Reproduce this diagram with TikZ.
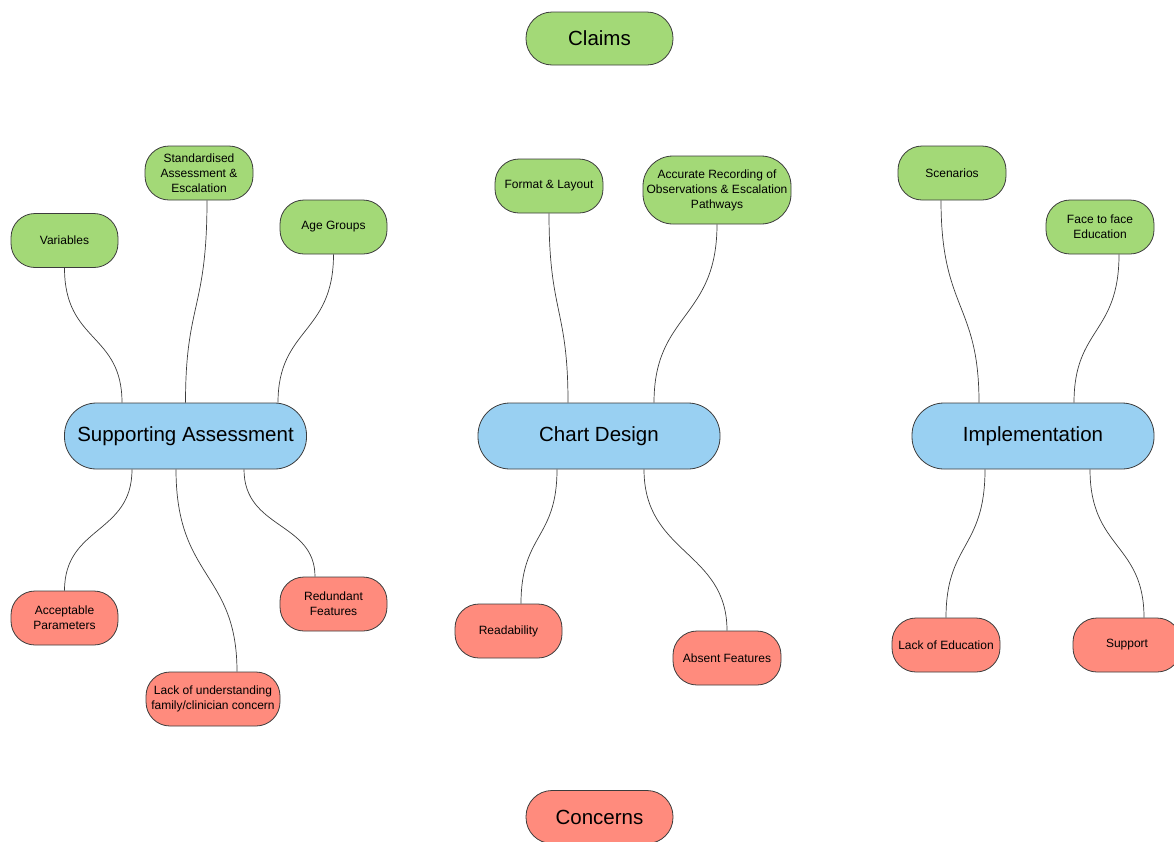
\documentclass[tikz,border=0pt]{standalone}
\usepackage{fontspec}
\setmainfont{Liberation Sans}
\usepackage{tikz}
\usetikzlibrary{positioning,calc}
\usepackage{xcolor}
\definecolor{claimgreen}{RGB}{163,217,119}
\definecolor{hubblue}{RGB}{153,208,242}
\definecolor{concernred}{RGB}{255,139,125}
\definecolor{edgegrey}{RGB}{60,60,60}

\begin{document}
\begin{tikzpicture}[x=1pt, y=-1pt,
    box/.style={draw=edgegrey, line width=0.8pt, rounded corners=24pt, align=center,
        inner sep=2pt, minimum width=107pt, minimum height=54pt,
        font=\fontsize{12}{15}\selectfont},
    claim/.style={box, fill=claimgreen},
    concern/.style={box, fill=concernred},
    hub/.style={draw=edgegrey, line width=0.8pt, rounded corners=32pt, fill=hubblue,
        minimum width=242pt, minimum height=66pt, font=\fontsize{20.5}{24}\selectfont},
    legend/.style={draw=edgegrey, line width=0.8pt, rounded corners=26pt,
        minimum width=147pt, minimum height=53pt, font=\fontsize{20.5}{24}\selectfont},
    link/.style={draw=edgegrey, line width=0.7pt}]
    \useasboundingbox (0,0) rectangle (1174,841);

    % Legend
    \node[legend, fill=claimgreen] (claims) at (599.5,38.5) {Claims};
    \node[legend, fill=concernred] (concerns) at (599.5,817) {Concerns};

    % Hubs
    \node[hub] (sa) at (185.5,436) {Supporting Assessment};
    \node[hub] (cd) at (599,436) {Chart Design};
    \node[hub] (impl) at (1033,436) {Implementation};

    % Claims
    \node[claim] (var) at (64.5,240.5) {Variables};
    \node[claim, minimum width=108pt] (std) at (199,173) {Standardised\\Assessment \&\\Escalation};
    \node[claim] (age) at (333.5,227) {Age Groups};
    \node[claim, minimum width=108pt] (fmt) at (549,186) {Format \& Layout};
    \node[claim, minimum width=148pt, minimum height=68pt, rounded corners=30pt] (acc) at (717,190) {Accurate Recording of\\Observations \& Escalation\\Pathways};
    \node[claim, minimum width=108pt] (scen) at (952,173) {Scenarios};
    \node[claim, minimum width=108pt] (face) at (1100,227) {Face to face\\Education};

    % Concerns
    \node[concern] (param) at (64.5,618) {Acceptable\\Parameters};
    \node[concern, minimum width=134pt] (lack) at (213,699) {Lack of understanding\\family/clinician concern};
    \node[concern] (redund) at (333.5,604) {Redundant\\Features};
    \node[concern] (read) at (508.5,631) {Readability};
    \node[concern, minimum width=108pt] (absent) at (727,658) {Absent Features};
    \node[concern, minimum width=108pt] (lacked) at (946,645) {Lack of Education};
    \node[concern, minimum width=108pt] (supp) at (1127,645) {Support};

    % Links to Supporting Assessment
    \draw[link] (var.south) .. controls +(0,75) and +(0,-70) .. ([xshift=-63.5pt]sa.north);
    \draw[link] ([xshift=8pt]std.south) .. controls +(0,110) and +(0,-100) .. (sa.north);
    \draw[link] (age.south) .. controls +(0,80) and +(0,-75) .. ([xshift=92.5pt]sa.north);
    \draw[link] ([xshift=-53.5pt]sa.south) .. controls +(0,65) and +(0,-65) .. (param.north);
    \draw[link] ([xshift=-9.5pt]sa.south) .. controls +(0,110) and +(0,-100) .. ([xshift=24pt]lack.north);
    \draw[link] ([xshift=58.5pt]sa.south) .. controls +(0,60) and +(0,-55) .. ([xshift=-18.5pt]redund.north);

    % Links to Chart Design
    \draw[link] (fmt.south) .. controls +(0,100) and +(0,-95) .. ([xshift=-31pt]cd.north);
    \draw[link] (acc.south) .. controls +(0,95) and +(0,-90) .. ([xshift=55pt]cd.north);
    \draw[link] ([xshift=-42pt]cd.south) .. controls +(0,70) and +(0,-70) .. ([xshift=12.5pt]read.north);
    \draw[link] ([xshift=45pt]cd.south) .. controls +(0,85) and +(0,-80) .. (absent.north);

    % Links to Implementation
    \draw[link] ([xshift=-11pt]scen.south) .. controls +(0,110) and +(0,-100) .. ([xshift=-54pt]impl.north);
    \draw[link] ([xshift=19pt]face.south) .. controls +(0,80) and +(0,-75) .. ([xshift=41pt]impl.north);
    \draw[link] ([xshift=-48pt]impl.south) .. controls +(0,80) and +(0,-75) .. (lacked.north);
    \draw[link] ([xshift=57pt]impl.south) .. controls +(0,80) and +(0,-75) .. ([xshift=17pt]supp.north);
\end{tikzpicture}
\end{document}
